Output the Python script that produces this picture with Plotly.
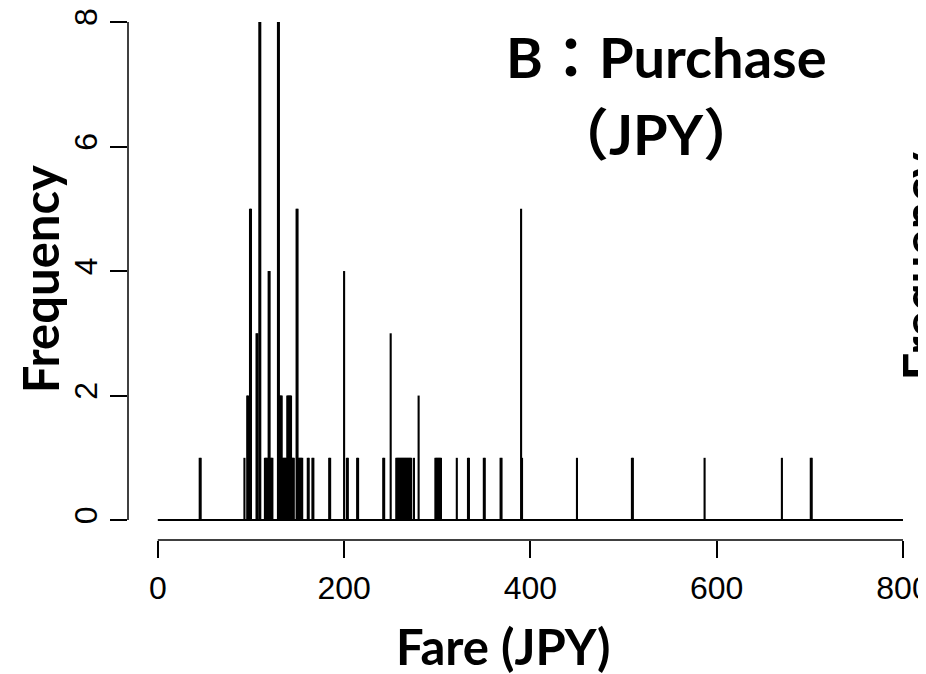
import plotly.graph_objects as go

# Fare values (JPY) and their frequencies
fares = [45, 46, 93, 96, 97, 99, 100, 106, 107, 109, 110,
         115, 116, 117, 118, 119, 120, 121, 122, 123,
         129, 130, 131, 132, 133, 134, 135, 136, 137, 138,
         139, 140, 141, 142, 143, 144, 145, 146,
         149, 150, 151, 152, 153, 154, 155,
         161, 162, 166, 167, 184, 185, 200, 203, 204, 214, 215,
         242, 243, 250,
         256, 257, 258, 259, 260, 261, 262, 263, 264, 265, 266, 267, 268, 269, 270, 271, 272,
         275, 280,
         298, 299, 300, 301, 302, 303, 304,
         321, 333, 334, 350, 351, 368, 369, 390, 391,
         450, 509, 510, 587, 670, 701, 702]
counts = [1, 1, 1, 2, 2, 5, 5, 3, 3, 8, 8,
          1, 1, 1, 1, 4, 4, 1, 1, 1,
          8, 8, 2, 2, 2, 1, 1, 1, 1, 1,
          2, 2, 2, 2, 2, 1, 1, 1,
          5, 5, 1, 1, 1, 1, 1,
          1, 1, 1, 1, 1, 1, 4, 1, 1, 1, 1,
          1, 1, 3,
          1, 1, 1, 1, 1, 1, 1, 1, 1, 1, 1, 1, 1, 1, 1, 1, 1,
          1, 2,
          1, 1, 1, 1, 1, 1, 1,
          1, 1, 1, 1, 1, 1, 1, 5, 1,
          1, 1, 1, 1, 1, 1, 1]

x_ticks = [0, 200, 400, 600, 800]
y_ticks = [0, 2, 4, 6, 8]
x_min, x_max = 0, 800
y_min, y_max = 0, 8

xs, ys = [], []
for f, c in zip(fares, counts):
    xs += [f, f, None]
    ys += [0, c, None]

fig = go.Figure()
fig.add_trace(go.Scatter(x=xs, y=ys, mode="lines",
                         line=dict(color="black", width=2.1),
                         hoverinfo="skip", showlegend=False))
fig.add_trace(go.Scatter(x=[x_min, x_max], y=[0, 0], mode="lines",
                         line=dict(color="black", width=2),
                         hoverinfo="skip", showlegend=False))

tick_font = dict(family="Liberation Sans Narrow, Liberation Sans, Arial, sans-serif",
                 size=32, color="black")
axis_title_font = dict(family="Lato, Noto Sans CJK JP, sans-serif", size=49, color="black")
title_font = dict(family="Lato, Noto Sans CJK JP, sans-serif", size=56, color="black")

fig.update_layout(
    width=918, height=666,
    margin=dict(l=120, r=0, t=0, b=134),
    paper_bgcolor="white", plot_bgcolor="white",
    xaxis=dict(range=[-32, 824.7], tickvals=x_ticks, ticktext=[str(v) for v in x_ticks],
               ticks="outside", ticklen=17, tickwidth=1.5, tickcolor="black",
               showgrid=False, zeroline=False, showline=False, automargin=False,
               ticklabeloverflow="allow",
               tickfont=tick_font, ticklabelstandoff=3),
    yaxis=dict(range=[-0.32, 8.225], tickvals=y_ticks, ticktext=[str(v) for v in y_ticks],
               ticks="outside", ticklen=17, tickwidth=1.5, tickcolor="black",
               tickangle=-90, showgrid=False, zeroline=False, showline=False,
               automargin=False, ticklabeloverflow="allow",
               tickfont=tick_font, ticklabelstandoff=0),
    shapes=[
        dict(type="line", xref="x", yref="paper", x0=x_min, x1=x_max, y0=0, y1=0,
             line=dict(color="black", width=1.5)),
        dict(type="line", xref="paper", yref="y", x0=0, x1=0, y0=y_min, y1=y_max,
             line=dict(color="black", width=1.5)),
    ],
    annotations=[
        dict(text="<b>Fare (JPY)</b>", xref="paper", yref="paper", x=0.471, y=-0.199,
             xanchor="center", yanchor="middle", showarrow=False, font=axis_title_font),
        dict(text="<b>Frequency</b>", xref="paper", yref="paper", x=-0.110, y=0.4906,
             xanchor="center", yanchor="middle", textangle=-90, showarrow=False, font=axis_title_font),
        dict(text="<b>B：Purchase</b>", xref="paper", yref="paper", x=0.6754, y=0.9079,
             xanchor="center", yanchor="middle", showarrow=False, font=title_font),
        dict(text="<b>（JPY）</b>", xref="paper", yref="paper", x=0.6617, y=0.765,
             xanchor="center", yanchor="middle", showarrow=False, font=title_font),
        dict(text="<b>Frequency</b>", xref="paper", yref="paper", x=0.993, y=0.515,
             xanchor="center", yanchor="middle", textangle=-90, showarrow=False, font=axis_title_font),
    ],
)

fig.write_html("out.html")
